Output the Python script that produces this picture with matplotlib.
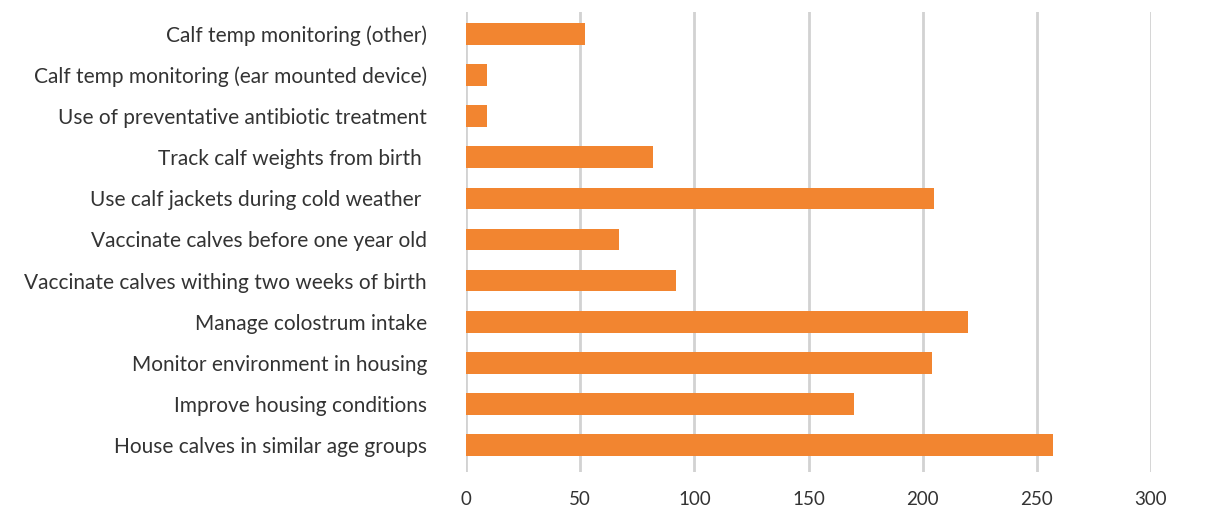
import matplotlib
matplotlib.use("Agg")
import matplotlib.pyplot as plt

categories = [
    "House calves in similar age groups",
    "Improve housing conditions",
    "Monitor environment in housing",
    "Manage colostrum intake",
    "Vaccinate calves withing two weeks of birth",
    "Vaccinate calves before one year old",
    "Use calf jackets during cold weather ",
    "Track calf weights from birth ",
    "Use of preventative antibiotic treatment",
    "Calf temp monitoring (ear mounted device)",
    "Calf temp monitoring (other)",
]
values = [257, 170, 204, 220, 92, 67, 205, 82, 9, 9, 52]
xticks = [0, 50, 100, 150, 200, 250, 300]

plt.rcParams['font.family'] = ['Lato', 'DejaVu Sans']

W, H = 1209, 511
fig = plt.figure(figsize=(W / 100, H / 100), dpi=100)
left, right, top, bottom = 466, 1151, 12, 472
ax = fig.add_axes([left / W, 1 - bottom / H, (right - left) / W, (bottom - top) / H])

pos = list(range(len(categories)))
ax.barh(pos, values, height=0.53, color="#F28530", zorder=3)

ax.set_xlim(0, 300)
ax.set_ylim(-0.657, 10.535)
ax.set_xticks(xticks)
ax.set_xticklabels([str(t) for t in xticks])
ax.set_yticks(pos)
ax.set_yticklabels(categories)

for s in ax.spines.values():
    s.set_visible(False)
ax.grid(axis="x", color="#D2D2D2", linewidth=2, zorder=0)
ax.tick_params(axis="both", length=0, colors="#333333")
ax.tick_params(axis="y", pad=28, labelsize=15)
ax.tick_params(axis="x", pad=14, labelsize=13.5)

fig.savefig("out.png", dpi=100)
